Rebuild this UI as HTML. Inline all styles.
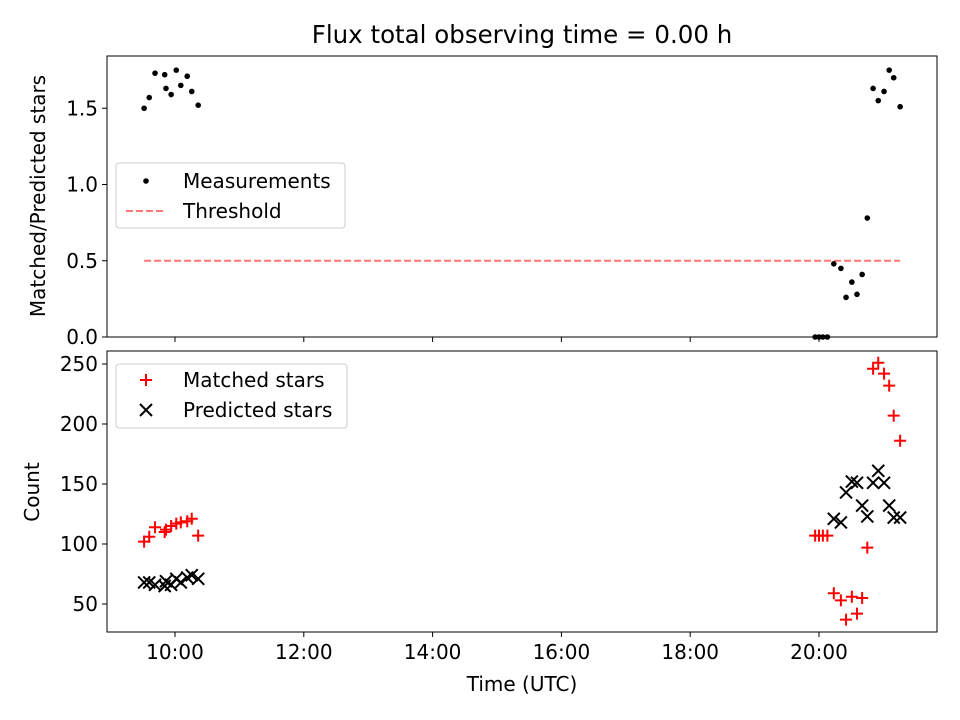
<!DOCTYPE html>
<html><head><meta charset="utf-8"><style>
html,body{margin:0;padding:0;background:#fff;}
svg{display:block;font-family:"DejaVu Sans","Liberation Sans",sans-serif;}
</style></head><body>
<svg id="chart" width="960" height="720" viewBox="0 0 960 720">
<rect x="0" y="0" width="960" height="720" fill="#fff"/>
<text x="522" y="43" font-size="24.5" text-anchor="middle">Flux total observing time = 0.00 h</text>
<g id="topAx"></g><g id="botAx"></g>
<g id="xticks"></g>
<text x="522" y="691" font-size="20" text-anchor="middle">Time (UTC)</text>
<text transform="translate(45,196) rotate(-90)" font-size="20" text-anchor="middle">Matched/Predicted stars</text>
<text transform="translate(39,492) rotate(-90)" font-size="20" text-anchor="middle">Count</text>
<rect x="107" y="56" width="830" height="281" fill="none" stroke="#000" stroke-width="1"/>
<rect x="107" y="351" width="830" height="281" fill="none" stroke="#000" stroke-width="1"/>
<g>
<rect x="116" y="163" width="229" height="65" rx="3" fill="#fff" fill-opacity="0.8" stroke="#ccc"/>
<circle cx="146" cy="181" r="2.8" fill="#000"/>
<text x="183" y="188" font-size="20">Measurements</text>
<line x1="126" y1="211" x2="166" y2="211" stroke="#ff7777" stroke-width="2" stroke-dasharray="7,3"/>
<text x="183" y="218" font-size="20">Threshold</text>
</g>
<g>
<rect x="116" y="364" width="231" height="64" rx="3" fill="#fff" fill-opacity="0.8" stroke="#ccc"/>
<path d="M140 380h12M146 374v12" stroke="red" stroke-width="2"/>
<text x="183" y="387" font-size="20">Matched stars</text>
<path d="M140 404l12 12M152 404l-12 12" stroke="#000" stroke-width="2"/>
<text x="183" y="417" font-size="20">Predicted stars</text>
</g>
</svg>
<script>
const times = [9.52,9.60,9.69,9.84,9.86,9.94,10.02,10.09,10.19,10.26,10.36,19.94,20.00,20.06,20.13,20.23,20.34,20.42,20.51,20.59,20.67,20.75,20.84,20.92,21.01,21.09,21.16,21.26];
const ratio = [1.50,1.57,1.73,1.72,1.63,1.59,1.75,1.65,1.71,1.61,1.52,0,0,0,0,0.48,0.45,0.26,0.36,0.28,0.41,0.78,1.63,1.55,1.61,1.75,1.70,1.51];
const matched = [102,106,114,110,112,115,117,118,119,121,107,107,107,107,107,59,53,37,56,42,55,97,246,251,242,232,207,186];
const predicted = [68,68,66,65,69,66,71,68,72,74,71,null,null,null,null,121,118,143,152,151,132,123,151,161,151,132,122,122];
const threshold = 0.5;
const thrRange = [9.52,21.26];
const xTicks = [10,12,14,16,18,20];
const xTickLabels = ["10:00","12:00","14:00","16:00","18:00","20:00"];
const topYTicks = [0,0.5,1.0,1.5];
const topYLabels = ["0.0","0.5","1.0","1.5"];
const botYTicks = [50,100,150,200,250];
const botYLabels = ["50","100","150","200","250"];

const NS="http://www.w3.org/2000/svg";
const X = h => 175 + (h-10)*64.4;
const YT = v => 337 - v*152.5;
const YB = v => 604 - (v-50)*1.2;
function mk(tag, attrs, parent){const e=document.createElementNS(NS,tag);for(const k in attrs)e.setAttribute(k,attrs[k]);parent.appendChild(e);return e;}
const topG=document.getElementById('topAx'), botG=document.getElementById('botAx'), xt=document.getElementById('xticks');

xTicks.forEach((t,i)=>{
  const l1=mk('line',{x1:X(t),x2:X(t),y1:337,y2:342,stroke:'#000'},xt);
  
  
  const l2=mk('line',{x1:X(t),x2:X(t),y1:632,y2:637,stroke:'#000'},xt);
  
  
  const tx=mk('text',{x:X(t),y:659,'font-size':20,'text-anchor':'middle'},xt);
  tx.textContent=xTickLabels[i];
  
  
});
topYTicks.forEach((t,i)=>{
  const l=mk('line',{x1:102,x2:107,y1:YT(t),y2:YT(t),stroke:'#000'},topG);
  
  
  const tx=mk('text',{x:98,y:YT(t)+7,'font-size':20,'text-anchor':'end'},topG);
  tx.textContent=topYLabels[i];
  
  
});
botYTicks.forEach((t,i)=>{
  const l=mk('line',{x1:102,x2:107,y1:YB(t),y2:YB(t),stroke:'#000'},botG);
  
  
  const tx=mk('text',{x:98,y:YB(t)+7,'font-size':20,'text-anchor':'end'},botG);
  tx.textContent=botYLabels[i];
  
  
});
const th=mk('line',{x1:X(thrRange[0]),x2:X(thrRange[1]),y1:YT(threshold),y2:YT(threshold),stroke:'#ff7777','stroke-width':2,'stroke-dasharray':'7,3'},topG);


times.forEach((t,i)=>{
  const c=mk('circle',{cx:X(t),cy:YT(ratio[i]),r:2.8,fill:'#000'},topG);
  
  
});
times.forEach((t,i)=>{
  if(predicted[i]==null) return;
  const x=X(t), y=YB(predicted[i]);
  const p=mk('path',{d:`M${x-6} ${y-6}l12 12M${x+6} ${y-6}l-12 12`,stroke:'#000','stroke-width':2},botG);
  
  
});
times.forEach((t,i)=>{
  const x=X(t), y=YB(matched[i]);
  const p=mk('path',{d:`M${x-6} ${y}h12M${x} ${y-6}v12`,stroke:'red','stroke-width':2},botG);
  
  
});
</script>
</body></html>
